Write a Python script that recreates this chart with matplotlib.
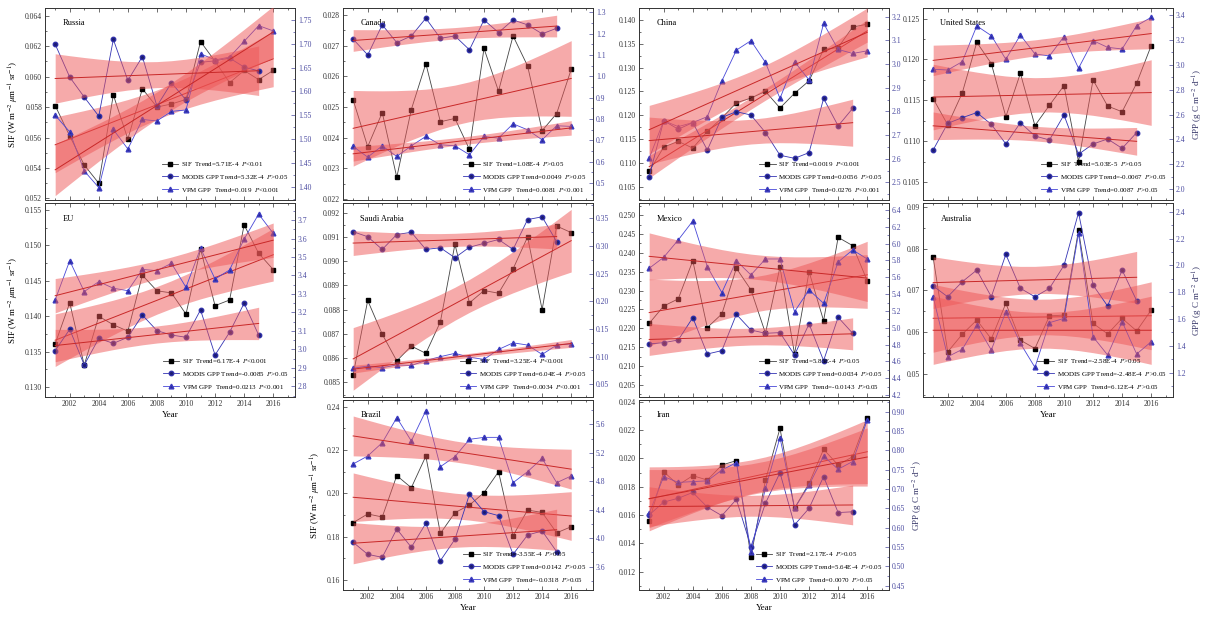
import numpy as np
import matplotlib
matplotlib.use("Agg")
import matplotlib.pyplot as plt
from matplotlib.lines import Line2D
from matplotlib.ticker import MultipleLocator, FormatStrFormatter, AutoMinorLocator

plt.rcParams["font.family"] = ["Liberation Serif", "DejaVu Serif"]
plt.rcParams["mathtext.fontset"] = "stix"

years = [2001, 2002, 2003, 2004, 2005, 2006, 2007, 2008,
         2009, 2010, 2011, 2012, 2013, 2014, 2015, 2016]

# SIF (left axis), MODIS GPP 2001-2015 and VPM GPP 2001-2016 (right axis)
russia_sif = [0.0581, 0.0561, 0.0542, 0.0530, 0.0588, 0.0559, 0.0592, 0.0580,
              0.0582, 0.0585, 0.0623, 0.0610, 0.0596, 0.0604, 0.0598, 0.0604]
russia_modis = [1.699, 1.630, 1.588, 1.548, 1.709, 1.623, 1.673, 1.569,
                1.618, 1.582, 1.661, 1.664, 1.670, 1.651, 1.643]
russia_vpm = [1.550, 1.515, 1.433, 1.398, 1.520, 1.479, 1.541, 1.538,
              1.558, 1.561, 1.679, 1.666, 1.672, 1.705, 1.738, 1.727]

canada_sif = [0.02523, 0.02371, 0.02482, 0.02271, 0.02492, 0.02642, 0.02452, 0.02463,
              0.02362, 0.02691, 0.02552, 0.02732, 0.02634, 0.02423, 0.02479, 0.02623]
canada_modis = [1.174, 1.100, 1.241, 1.158, 1.189, 1.272, 1.178, 1.189,
                1.124, 1.264, 1.205, 1.264, 1.241, 1.199, 1.225]
canada_vpm = [0.671, 0.621, 0.674, 0.624, 0.674, 0.718, 0.679, 0.674,
              0.632, 0.718, 0.710, 0.777, 0.749, 0.702, 0.768, 0.765]

china_sif = [0.1082, 0.1133, 0.1145, 0.1131, 0.1166, 0.1194, 0.1226, 0.1236,
             0.1250, 0.1215, 0.1246, 0.1272, 0.1338, 0.1342, 0.1385, 0.1391]
china_modis = [2.525, 2.761, 2.725, 2.753, 2.637, 2.775, 2.799, 2.785,
               2.711, 2.615, 2.602, 2.626, 2.855, 2.739, 2.813]
china_vpm = [2.602, 2.761, 2.736, 2.753, 2.778, 2.929, 3.059, 3.099,
             3.007, 2.855, 3.010, 2.933, 3.172, 3.062, 3.045, 3.056]

us_sif = [0.1152, 0.1120, 0.1159, 0.1221, 0.1195, 0.1130, 0.1183, 0.1119,
          0.1144, 0.1168, 0.1075, 0.1175, 0.1143, 0.1136, 0.1171, 0.1217]
us_modis = [2.316, 2.530, 2.575, 2.616, 2.522, 2.364, 2.535, 2.428,
            2.396, 2.597, 2.281, 2.364, 2.404, 2.329, 2.455]
us_vpm = [2.964, 2.958, 3.025, 3.312, 3.234, 3.044, 3.239, 3.087,
          3.071, 3.226, 2.972, 3.194, 3.140, 3.127, 3.314, 3.381]

eu_sif = [0.1361, 0.1419, 0.1331, 0.1400, 0.1388, 0.1379, 0.1458, 0.1436,
          0.1433, 0.1403, 0.1495, 0.1415, 0.1423, 0.1529, 0.1489, 0.1466]
eu_modis = [2.994, 3.109, 2.916, 3.060, 3.033, 3.066, 3.186, 3.102,
            3.078, 3.066, 3.214, 2.970, 3.093, 3.250, 3.078]
eu_vpm = [3.268, 3.480, 3.313, 3.367, 3.331, 3.318, 3.433, 3.426,
          3.466, 3.336, 3.547, 3.381, 3.430, 3.597, 3.732, 3.628]

saudi_sif = [0.08532, 0.08838, 0.08699, 0.08589, 0.08650, 0.08620, 0.08750, 0.09070,
             0.08828, 0.08879, 0.08868, 0.08968, 0.09100, 0.08800, 0.09145, 0.09118]
saudi_modis = [0.326, 0.317, 0.294, 0.321, 0.325, 0.294, 0.297, 0.279,
               0.298, 0.305, 0.312, 0.294, 0.348, 0.353, 0.308]
saudi_vpm = [0.079, 0.083, 0.080, 0.085, 0.084, 0.093, 0.100, 0.106,
             0.099, 0.095, 0.113, 0.125, 0.121, 0.104, 0.121, 0.123]

mexico_sif = [0.2213, 0.2259, 0.2278, 0.2379, 0.2202, 0.2238, 0.2359, 0.2302,
              0.2187, 0.2362, 0.2132, 0.2350, 0.2220, 0.2441, 0.2419, 0.2326]
mexico_modis = [4.808, 4.824, 4.855, 5.121, 4.689, 4.729, 5.160, 4.974,
                4.935, 4.943, 4.677, 5.046, 4.610, 5.125, 4.935]
mexico_vpm = [5.707, 5.838, 6.044, 6.269, 5.727, 5.418, 5.798, 5.628,
              5.818, 5.818, 5.192, 5.450, 5.291, 5.782, 5.925, 5.818]

australia_sif = [0.0779, 0.0553, 0.0595, 0.0629, 0.0584, 0.0669, 0.0581, 0.0561,
                 0.0639, 0.0641, 0.0844, 0.0621, 0.0596, 0.0633, 0.0603, 0.0653]
australia_modis = [1.846, 1.766, 1.878, 1.965, 1.766, 2.082, 1.829, 1.766,
                   1.829, 2.000, 2.393, 1.853, 1.697, 1.965, 1.737]
australia_vpm = [1.766, 1.319, 1.374, 1.555, 1.369, 1.655, 1.419, 1.240,
                 1.573, 1.605, 2.239, 1.468, 1.332, 1.580, 1.339, 1.431]

brazil_sif = [0.1865, 0.1905, 0.1891, 0.2082, 0.2026, 0.2172, 0.1815, 0.1911,
              0.1946, 0.2003, 0.2100, 0.1805, 0.1923, 0.1912, 0.1818, 0.1846]
brazil_modis = [3.942, 3.773, 3.731, 4.129, 3.872, 4.209, 3.684, 3.984,
                4.616, 4.373, 4.317, 3.773, 4.045, 4.101, 3.811]
brazil_vpm = [5.043, 5.155, 5.342, 5.694, 5.366, 5.792, 5.005, 5.146,
              5.389, 5.417, 5.417, 4.780, 4.935, 5.122, 4.780, 4.874]

iran_sif = [0.01558, 0.01906, 0.01812, 0.01878, 0.01847, 0.01953, 0.01984, 0.01306,
            0.01847, 0.02212, 0.01647, 0.01824, 0.02064, 0.01953, 0.02012, 0.02287]
iran_modis = [0.633, 0.666, 0.676, 0.691, 0.653, 0.631, 0.673, 0.551,
              0.663, 0.742, 0.607, 0.650, 0.732, 0.639, 0.641]
iran_vpm = [0.637, 0.732, 0.717, 0.719, 0.721, 0.749, 0.768, 0.538,
            0.702, 0.833, 0.650, 0.710, 0.785, 0.751, 0.771, 0.878]

# legend texts as printed in each panel
russia_leg = ["SIF  Trend=5.71E-4  $P$<0.01", "MODIS GPP Trend=5.32E-4  $P$>0.05", "VPM GPP  Trend=0.019  $P$<0.001"]
canada_leg = ["SIF  Trend=1.08E-4  $P$>0.05", "MODIS GPP Trend=0.0049  $P$>0.05", "VPM GPP  Trend=0.0081  $P$<0.001"]
china_leg = ["SIF  Trend=0.0019  $P$<0.001", "MODIS GPP Trend=0.0056  $P$>0.05", "VPM GPP  Trend=0.0276  $P$<0.001"]
us_leg = ["SIF  Trend=5.03E-5  $P$>0.05", "MODIS GPP Trend=-0.0067  $P$>0.05", "VPM GPP  Trend=0.0087  $P$>0.05"]
eu_leg = ["SIF  Trend=6.17E-4  $P$<0.001", "MODIS GPP Trend=-0.0085  $P$>0.05", "VPM GPP  Trend=0.0213  $P$<0.001"]
saudi_leg = ["SIF  Trend=3.25E-4  $P$<0.001", "MODIS GPP Trend=6.04E-4  $P$>0.05", "VPM GPP  Trend=0.0034  $P$<0.001"]
mexico_leg = ["SIF  Trend=5.85E-4  $P$>0.05", "MODIS GPP Trend=0.0034  $P$>0.05", "VPM GPP  Trend=-0.0143  $P$>0.05"]
australia_leg = ["SIF  Trend=-2.58E-4  $P$>0.05", "MODIS GPP Trend=-2.48E-4  $P$>0.05", "VPM GPP  Trend=6.12E-4  $P$>0.05"]
brazil_leg = ["SIF  Trend=-3.55E-4  $P$>0.05", "MODIS GPP Trend=0.0142  $P$>0.05", "VPM GPP  Trend=-0.0318  $P$>0.05"]
iran_leg = ["SIF  Trend=2.17E-4  $P$>0.05", "MODIS GPP Trend=5.64E-4  $P$>0.05", "VPM GPP  Trend=0.0070  $P$>0.05"]

# name, row, col, data, legend, left ylim/step/fmt, right ylim/step/fmt
panels = [
    ("Russia", 0, 0, russia_sif, russia_modis, russia_vpm, russia_leg,
     (0.0519, 0.0645), 0.002, "%.3f", (1.372, 1.775), 0.05, "%.2f"),
    ("Canada", 0, 1, canada_sif, canada_modis, canada_vpm, canada_leg,
     (0.02197, 0.02823), 0.001, "%.3f", (0.42, 1.32), 0.1, "%.1f"),
    ("China", 0, 2, china_sif, china_modis, china_vpm, china_leg,
     (0.1022, 0.1425), 0.005, "%.3f", (2.426, 3.237), 0.1, "%.1f"),
    ("United States", 0, 3, us_sif, us_modis, us_vpm, us_leg,
     (0.1028, 0.1263), 0.005, "%.3f", (1.914, 3.456), 0.2, "%.1f"),
    ("EU", 1, 0, eu_sif, eu_modis, eu_vpm, eu_leg,
     (0.1286, 0.1560), 0.005, "%.3f", (2.743, 3.792), 0.1, "%.1f"),
    ("Saudi Arabia", 1, 1, saudi_sif, saudi_modis, saudi_vpm, saudi_leg,
     (0.0844, 0.0924), 0.001, "%.3f", (0.027, 0.378), 0.05, "%.2f"),
    ("Mexico", 1, 2, mexico_sif, mexico_modis, mexico_vpm, mexico_leg,
     (0.2018, 0.2532), 0.005, "%.3f", (4.178, 6.483), 0.2, "%.1f"),
    ("Australia", 1, 3, australia_sif, australia_modis, australia_vpm, australia_leg,
     (0.0445, 0.0909), 0.01, "%.2f", (1.019, 2.465), 0.2, "%.1f"),
    ("Brazil", 2, 1, brazil_sif, brazil_modis, brazil_vpm, brazil_leg,
     (0.1554, 0.2431), 0.02, "%.2f", (3.272, 5.942), 0.4, "%.1f"),
    ("Iran", 2, 2, iran_sif, iran_modis, iran_vpm, iran_leg,
     (0.01071, 0.02412), 0.002, "%.3f", (0.4388, 0.930), 0.05, "%.2f"),
]

W, H = 1208, 619
col_left = [45, 343, 639, 923]
row_top = [8, 203, 400]
row_h = [192, 194, 190]
pan_w = 250

sif_style = dict(color="#444444", lw=0.6, marker="s", ms=3.0, mfc="black", mec="black")
modis_style = dict(color="#3434b4", lw=0.6, marker="o", ms=3.2, mfc="#1c1c70", mec="#3030a8")
vpm_style = dict(color="#4848d8", lw=0.6, marker="^", ms=3.4, mfc="#2a2a98", mec="#3a3ac0")
band_color = "#ee5656"
trend_color = "#c82828"
gpp_color = "#4a4aa0"


def trend_band(x, y):
    x = np.asarray(x, float)
    y = np.asarray(y, float)
    n = len(x)
    b, a = np.polyfit(x, y, 1)
    yhat = a + b * x
    s = np.sqrt(np.sum((y - yhat) ** 2) / (n - 2))
    sxx = np.sum((x - x.mean()) ** 2)
    t = {13: 2.160, 14: 2.145}[n - 2]
    half = t * s * np.sqrt(1.0 / n + (x - x.mean()) ** 2 / sxx)
    return yhat, half


def draw_series(ax, y, style):
    x = years[:len(y)]
    ax.plot(x, y, zorder=2, **style)
    yhat, half = trend_band(x, y)
    ax.fill_between(x, yhat - half, yhat + half, color=band_color, alpha=0.5,
                    lw=0, zorder=3)
    ax.plot(x, yhat, color=trend_color, lw=0.7, zorder=4)


fig = plt.figure(figsize=(W / 100, H / 100), dpi=100)

for (name, r, c, sif, modis, vpm, leg, ylim1, step1, fmt1,
     ylim2, step2, fmt2) in panels:
    rect = [col_left[c] / W, 1 - (row_top[r] + row_h[r]) / H, pan_w / W, row_h[r] / H]
    ax = fig.add_axes(rect)
    ax2 = ax.twinx()

    draw_series(ax, sif, sif_style)
    draw_series(ax2, modis, modis_style)
    draw_series(ax2, vpm, vpm_style)

    ax.set_xlim(2000.3, 2017.5)
    ax.set_ylim(*ylim1)
    ax2.set_ylim(*ylim2)
    ax.xaxis.set_major_locator(MultipleLocator(2))
    ax.xaxis.set_minor_locator(MultipleLocator(1))
    ax.yaxis.set_major_locator(MultipleLocator(step1))
    ax.yaxis.set_major_formatter(FormatStrFormatter(fmt1))
    ax.yaxis.set_minor_locator(AutoMinorLocator(2))
    ax2.yaxis.set_major_locator(MultipleLocator(step2))
    ax2.yaxis.set_major_formatter(FormatStrFormatter(fmt2))
    ax2.yaxis.set_minor_locator(AutoMinorLocator(2))

    ax.tick_params(axis="both", which="both", direction="in", top=True,
                   labelsize=5.5, pad=2, width=0.5, colors="#333333")
    ax.tick_params(which="major", length=3)
    ax.tick_params(which="minor", length=1.6)
    ax2.tick_params(axis="y", which="both", direction="in", labelsize=5.5,
                    pad=2, width=0.5, colors=gpp_color)
    ax2.tick_params(which="major", length=3)
    ax2.tick_params(which="minor", length=1.6)
    for a in (ax, ax2):
        for sp in a.spines.values():
            sp.set_linewidth(0.6)
            sp.set_color("#333333")

    bottom = name in ("EU", "Australia", "Brazil", "Iran")
    if bottom:
        ax.set_xlabel("Year", fontsize=6.5, labelpad=2)
    else:
        ax.tick_params(axis="x", labelbottom=False)
    if c == 0 or name == "Brazil":
        ax.set_ylabel("SIF (W m$^{-2}$ $\\mu$m$^{-1}$ sr$^{-1}$)", fontsize=6.5, labelpad=3)
    if name in ("United States", "Australia", "Iran"):
        ax2.set_ylabel("GPP (g C m$^{-2}$ d$^{-1}$)", fontsize=6.5, labelpad=4, color="#333366")

    ax.text(0.07, 0.92, name, transform=ax.transAxes, fontsize=6, va="center")

    handles = [Line2D([], [], **sif_style), Line2D([], [], **modis_style),
               Line2D([], [], **vpm_style)]
    ax2.legend(handles, leg, loc="lower right", fontsize=5, frameon=False,
               handlelength=2.4, labelspacing=0.7, borderaxespad=0.5,
               handletextpad=0.4)

fig.savefig("out.png", dpi=100)
